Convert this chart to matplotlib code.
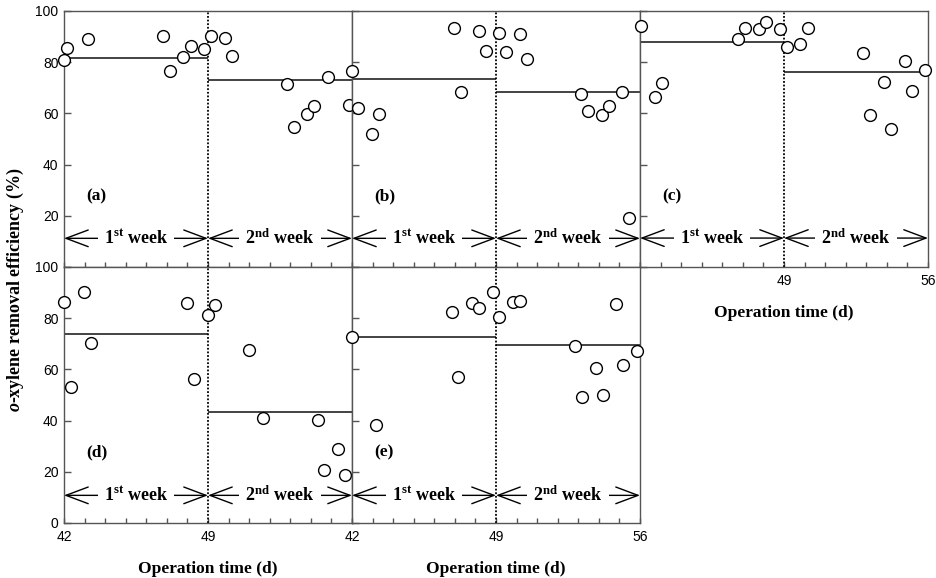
import matplotlib.pyplot as plt
from matplotlib.ticker import FixedLocator

plt.rcParams['mathtext.fontset'] = 'custom'
plt.rcParams['mathtext.rm'] = 'Liberation Serif:bold'
plt.rcParams['mathtext.it'] = 'Liberation Serif:italic:bold'
plt.rcParams['mathtext.bf'] = 'Liberation Serif:bold'

# data
panel_labels = ['(a)', '(b)', '(c)', '(d)', '(e)']

a_days = [42.0, 42.16, 43.15, 46.8, 47.15, 47.8, 48.16, 48.82, 49.15, 49.83, 50.15, 52.82, 53.18, 53.83, 54.17, 54.85, 55.84]
a_eff = [80.9, 85.7, 88.9, 90.4, 76.4, 82.2, 86.5, 85.3, 90.4, 89.5, 82.5, 71.4, 54.6, 59.6, 63.0, 74.2, 63.2]

b_days = [42.0, 42.31, 42.99, 43.33, 46.98, 47.32, 48.15, 48.49, 49.15, 49.49, 50.15, 50.49, 53.14, 53.47, 54.15, 54.47, 55.13, 55.47]
b_eff = [76.6, 62.0, 52.0, 59.6, 93.4, 68.4, 92.1, 84.4, 91.4, 83.9, 90.9, 81.1, 67.6, 61.1, 59.4, 62.8, 68.5, 19.0]

c_days = [42.07, 42.73, 43.07, 46.78, 47.12, 47.78, 48.12, 48.79, 49.13, 49.8, 50.16, 52.86, 53.17, 53.85, 54.2, 54.86, 55.2, 55.87]
c_eff = [94.0, 66.3, 72.0, 89.2, 93.2, 93.1, 95.8, 92.8, 86.1, 87.0, 93.4, 83.5, 59.5, 72.1, 53.8, 80.5, 68.9, 77.1]

d_days = [42.0, 42.32, 42.99, 43.33, 48.0, 48.33, 49.0, 49.33, 50.98, 51.66, 54.33, 54.66, 55.32, 55.66]
d_eff = [86.2, 53.2, 90.2, 70.2, 86.1, 56.3, 81.3, 85.2, 67.7, 41.1, 40.1, 20.7, 28.9, 18.6]

e_days = [42.0, 43.17, 46.85, 47.16, 47.84, 48.18, 48.84, 49.17, 49.82, 50.18, 52.86, 53.2, 53.85, 54.19, 54.84, 55.18, 55.83]
e_eff = [72.7, 38.3, 82.3, 57.2, 85.8, 83.9, 90.4, 80.4, 86.5, 86.7, 69.3, 49.3, 60.7, 50.1, 85.4, 61.8, 67.3]

mean_week1 = [81.8, 73.3, 87.9, 73.7, 72.8]
mean_week2 = [73.0, 68.4, 76.2, 43.2, 69.7]

all_days = [a_days, b_days, c_days, d_days, e_days]
all_eff = [a_eff, b_eff, c_eff, d_eff, e_eff]

x_ticks = list(range(42, 57))
y_ticks = [0, 20, 40, 60, 80, 100]
# which x / y tick labels each panel shows
x_labels_shown = [[], [], [49, 56], [42, 49], [42, 49, 56]]
y_labels_shown = [[20, 40, 60, 80, 100], [], [], [0, 20, 40, 60, 80, 100], []]
week_arrow_y = [11.2, 11.2, 11.3, 10.8, 10.8]

W, H = 936, 578
fig = plt.figure(figsize=(W / 100, H / 100), dpi=100)

# pixel layout: (left, top) of each panel
pw, ph = 288, 256
corners = [(64, 11), (352, 11), (640, 11), (64, 267), (352, 267)]

serif = 'Liberation Serif'
spine_c = '#555555'

for i in range(5):
    lx, ty = corners[i]
    ax = fig.add_axes([lx / W, (H - ty - ph) / H, pw / W, ph / H])
    ax.set_xlim(42, 56)
    ax.set_ylim(0, 100)

    ax.plot(all_days[i], all_eff[i], 'o', ms=8.5, mfc='white', mec='black',
            mew=1.0, clip_on=False, zorder=5)
    ax.hlines(mean_week1[i], 42, 49, colors='#222222', lw=1.2)
    ax.hlines(mean_week2[i], 49, 56, colors='#222222', lw=1.2)
    ax.axvline(49, color='black', lw=1.3, ls=(0, (1, 1)))

    # week arrows
    ya = week_arrow_y[i]
    for x0, x1, txt in [(42, 49, r'1$^{\mathrm{st}}$ week'), (49, 56, r'2$^{\mathrm{nd}}$ week')]:
        ax.annotate('', xy=(x0, ya), xytext=(x1, ya),
                    arrowprops=dict(arrowstyle='<->,head_length=1.6,head_width=0.6',
                                    mutation_scale=10, shrinkA=0, shrinkB=0,
                                    lw=1.0, color='black'), zorder=3)
        ax.text((x0 + x1) / 2, ya, txt, ha='center', va='center', fontsize=13,
                family=serif, weight='bold', zorder=4,
                bbox=dict(boxstyle='square,pad=0.35', fc='white', ec='none'))

    ax.text(43.1, 27.5, panel_labels[i], ha='left', va='center', fontsize=12.5,
            family=serif, weight='bold')

    for s in ax.spines.values():
        s.set_color(spine_c)
        s.set_linewidth(1.0)

    ax.xaxis.set_major_locator(FixedLocator(x_ticks))
    ax.set_xticklabels([str(t) if t in x_labels_shown[i] else '' for t in x_ticks])
    ax.yaxis.set_major_locator(FixedLocator(y_ticks))
    ax.set_yticklabels([str(t) if t in y_labels_shown[i] else '' for t in y_ticks])
    ax.tick_params(axis='x', direction='in', length=3.8, width=1.0, color=spine_c,
                   pad=5.0, labelsize=10, top=False)
    ax.tick_params(axis='y', direction='in', length=5.0, width=1.0, color=spine_c,
                   pad=4.0, labelsize=10, right=False)
    for lab in ax.get_xticklabels() + ax.get_yticklabels():
        lab.set_family('Liberation Sans')

    if x_labels_shown[i]:
        ax.annotate('Operation time (d)', xy=(49, 0), xycoords=('data', 'axes fraction'),
                    xytext=(0, -33), textcoords='offset points', ha='center', va='center',
                    fontsize=12.5, family=serif, weight='bold', annotation_clip=False)

fig.text(15 / W, (H - 290) / H, r'$\mathit{o}$-xylene removal efficiency (%)',
         rotation=90, ha='center', va='center', fontsize=13, family=serif,
         weight='bold')

fig.savefig('out.png', dpi=100)
